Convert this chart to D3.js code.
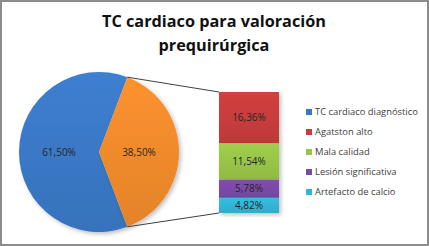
<!DOCTYPE html>
<html>
<head>
<meta charset="utf-8">
<script src="https://cdn.jsdelivr.net/npm/d3@7"></script>
<style>
  body { margin: 0; background: #fff; }
  #chart_div { width: 429px; height: 246px; }
</style>
</head>
<body>
<div id="chart_div"></div>
<script>
// data
var titleLines = ["TC cardiaco para valoración", "prequirúrgica"];
var pieNames = ["TC cardiaco diagnóstico", "No diagnóstico"];
var pieValues = [61.50, 38.50];
var barNames = ["Agatston alto", "Mala calidad", "Lesión significativa", "Artefacto de calcio"];
var barValues = [16.36, 11.54, 5.78, 4.82];
var legendNames = ["TC cardiaco diagnóstico", "Agatston alto", "Mala calidad", "Lesión significativa", "Artefacto de calcio"];

var pieColors = ["#3a78c6", "#f08a2c"];
var barColors = ["#c83c3c", "#98c447", "#7a4aa8", "#33b4d6"];
var legendColors = ["#3a78c6", "#c83c3c", "#98c447", "#7a4aa8", "#33b4d6"];

var w = 429, h = 246;
var fmt = function(v){ return v.toFixed(2).replace('.', ',') + '%'; };

var chart = d3.select("#chart_div")
    .append('svg')
    .attr('width', w)
    .attr('height', h)
    .style('display', 'block');

var defs = chart.append('defs');
var shadow = defs.append('filter').attr('id', 'shd')
    .attr('x', '-10%').attr('y', '-10%').attr('width', '130%').attr('height', '130%');
shadow.append('feDropShadow')
    .attr('dx', 2).attr('dy', 2).attr('stdDeviation', 2)
    .attr('flood-color', '#000').attr('flood-opacity', 0.25);

// slight shading on each colour
function shade(id, c){
    var g = defs.append('linearGradient').attr('id', id)
        .attr('x1', 0).attr('y1', 0).attr('x2', 0).attr('y2', 1);
    g.append('stop').attr('offset', '0%').attr('stop-color', d3.color(c).brighter(0.15));
    g.append('stop').attr('offset', '100%').attr('stop-color', d3.color(c).darker(0.15));
}
pieColors.forEach(function(c, i){ shade('pg' + i, c); });
barColors.forEach(function(c, i){ shade('bg' + i, c); });

// frame
chart.append('rect')
    .attr('x', 1).attr('y', 1)
    .attr('width', w - 2).attr('height', h - 2)
    .attr('fill', '#fff')
    .attr('stroke', '#8c8c8c')
    .attr('stroke-width', 2);

// title
var title = chart.append('g');
title.selectAll('text')
    .data(titleLines)
    .enter().append('text')
    .attr('x', 214)
    .attr('y', function(d, i){ return 27 + i * 24; })
    .attr('text-anchor', 'middle')
    .style('font-family', 'Open Sans, sans-serif')
    .style('font-weight', 'bold')
    .style('font-size', '16px')
    .style('fill', '#111')
    .text(function(d){ return d; });
// squeeze to the narrower original face
var t0 = title.select('text').node();
var scaleT = 224 / t0.getComputedTextLength();
title.selectAll('text').style('font-size', (16 * scaleT) + 'px');

// pie
var cx = 99, cy = 152, r = 80;
var total = d3.sum(pieValues);
var orangeFrac = pieValues[1] / total, blueFrac = pieValues[0] / total;
var offset = Math.PI / 2 - orangeFrac * Math.PI - blueFrac * 2 * Math.PI;

var pie = d3.pie().sort(null).startAngle(offset).endAngle(offset + 2 * Math.PI);
var arcs = pie(pieValues);
var arc = d3.arc().innerRadius(0).outerRadius(r);

var pieG = chart.append('g').attr('transform', 'translate(' + cx + ',' + cy + ')');
pieG.selectAll('path')
    .data(arcs)
    .enter().append('path')
    .attr('d', arc)
    .attr('fill', function(d, i){ return 'url(#pg' + i + ')'; })
    .attr('filter', 'url(#shd)');

var labelArc = d3.arc().innerRadius(r * 0.5).outerRadius(r * 0.5);
pieG.selectAll('text')
    .data(arcs)
    .enter().append('text')
    .attr('transform', function(d){ return 'translate(' + labelArc.centroid(d) + ')'; })
    .attr('dy', '0.35em')
    .attr('text-anchor', 'middle')
    .style('font-family', 'Open Sans, sans-serif')
    .style('font-size', '10px')
    .style('fill', '#262626')
    .text(function(d){ return fmt(d.value); });

// stacked bar
var barX = 219, barW = 60, barTop = 92, barBottom = 213;
var y = d3.scaleLinear().domain([0, d3.sum(barValues)]).range([barTop, barBottom]);
var cum = 0;
var segs = barValues.map(function(v){ var s = {y0: cum, y1: cum + v, v: v}; cum += v; return s; });

var barG = chart.append('g');
barG.selectAll('rect')
    .data(segs)
    .enter().append('rect')
    .attr('x', barX)
    .attr('y', function(d){ return y(d.y0); })
    .attr('width', barW)
    .attr('height', function(d){ return y(d.y1) - y(d.y0); })
    .attr('fill', function(d, i){ return 'url(#bg' + i + ')'; })
    .attr('filter', 'url(#shd)');

barG.selectAll('text')
    .data(segs)
    .enter().append('text')
    .attr('x', barX + barW / 2)
    .attr('y', function(d){ return (y(d.y0) + y(d.y1)) / 2; })
    .attr('dy', '0.35em')
    .attr('text-anchor', 'middle')
    .style('font-family', 'Open Sans, sans-serif')
    .style('font-size', '10px')
    .style('fill', '#262626')
    .text(function(d){ return fmt(d.v); });

// connector lines from the orange slice edges to the bar corners
var oa = arcs[1];
function edge(a){ return [cx + r * Math.sin(a), cy - r * Math.cos(a)]; }
var pTop = edge(oa.startAngle), pBot = edge(oa.endAngle);
chart.append('line')
    .attr('x1', pTop[0]).attr('y1', pTop[1])
    .attr('x2', barX).attr('y2', barTop)
    .style('stroke', '#404040').style('stroke-width', 1);
chart.append('line')
    .attr('x1', pBot[0]).attr('y1', pBot[1])
    .attr('x2', barX).attr('y2', barBottom)
    .style('stroke', '#404040').style('stroke-width', 1);

// legend
var legend = chart.append('g');
var items = legend.selectAll('g')
    .data(legendNames)
    .enter().append('g')
    .attr('transform', function(d, i){ return 'translate(306,' + (112 + i * 20) + ')'; });
items.append('rect')
    .attr('x', 0).attr('y', -3)
    .attr('width', 6).attr('height', 6)
    .attr('fill', function(d, i){ return legendColors[i]; });
items.append('text')
    .attr('x', 9)
    .attr('dy', '0.35em')
    .style('font-family', 'Open Sans, sans-serif')
    .style('font-size', '11px')
    .style('fill', '#404040')
    .text(function(d){ return d; });
var l0 = items.select('text').node();
var scaleL = 103 / l0.getComputedTextLength();
items.selectAll('text').style('font-size', (11 * scaleL) + 'px');
</script>
</body>
</html>
